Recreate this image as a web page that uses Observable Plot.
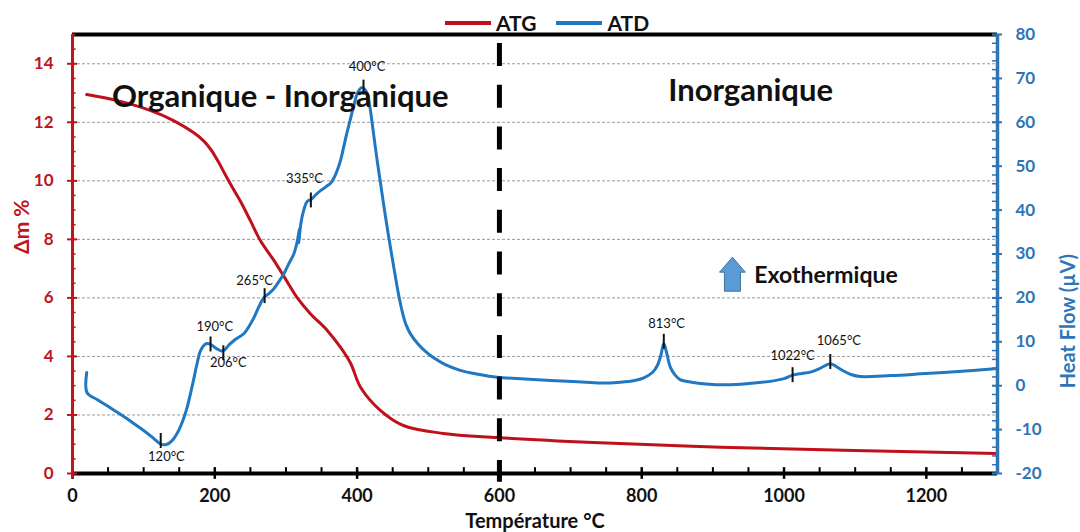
<!DOCTYPE html>
<html><head><meta charset="utf-8">
<script src="https://cdn.jsdelivr.net/npm/d3@7"></script>
<script src="https://cdn.jsdelivr.net/npm/@observablehq/plot@0.6"></script>
<style>
body{margin:0;background:#fff;font-family:Lato,"Open Sans",sans-serif;}
#wrap{position:relative;width:1080px;height:532px;overflow:hidden;}
#wrap svg{position:absolute;left:0;top:0;}
#legend{position:absolute;left:445px;top:10px;display:flex;align-items:center;font:bold 21px Lato,sans-serif;color:#111;z-index:2;}
.sw{display:inline-block;height:4px;width:46px;margin-right:5px;}
</style></head><body>
<div id="wrap"><div id="legend"></div></div>
<script>
// ---- data ----
const seriesNames = ["ATG", "ATD"];
const seriesColors = ["#C0101C", "#1F78C1"];
const atgT  = [20, 63, 110, 142, 170, 185, 195, 205, 215, 226, 236, 250, 264, 283, 298, 316, 334, 358, 377, 391, 405, 433, 465, 521, 597, 732, 911, 1098, 1300];
const atgDm = [12.95, 12.74, 12.4, 12.06, 11.65, 11.35, 11.05, 10.65, 10.2, 9.72, 9.3, 8.64, 7.96, 7.28, 6.7, 6.0, 5.47, 4.89, 4.3, 3.76, 2.94, 2.15, 1.64, 1.37, 1.23, 1.06, 0.9, 0.79, 0.68];
const atdT  = [20, 20.5, 35, 53, 70, 86, 100, 114, 124, 132, 140, 147, 155, 161, 170, 175, 180, 186, 190, 196, 203, 210, 214, 220, 227, 241, 248, 255, 262, 269, 276, 283, 290, 297, 304, 311, 316, 319, 318, 321, 325, 330, 335, 342, 349, 356, 363, 368, 372, 377, 381, 386, 391, 396, 400, 404, 407, 410, 414, 418, 423, 428, 433, 438, 443, 451, 458, 464, 469, 475, 485, 496, 507, 524, 545, 570, 597, 630, 672, 710, 742, 770, 790, 803, 815, 822, 827, 831, 835, 840, 847, 854, 870, 890, 920, 950, 985, 1000, 1012, 1025, 1037, 1050, 1065, 1075, 1083, 1095, 1107, 1150, 1192, 1250, 1300];
const atdHF = [3.0, -1.6, -3.2, -5.0, -6.8, -8.6, -10.2, -12.0, -13.3, -13.4, -12.5, -10.9, -8.0, -5.0, 1.2, 5.0, 8.0, 9.4, 9.6, 9.2, 8.4, 7.9, 8.2, 9.3, 10.3, 11.9, 13.5, 15.5, 18.0, 20.1, 21.0, 22.1, 23.7, 25.5, 27.8, 30.0, 33.0, 35.8, 32.5, 37.0, 40.0, 42.0, 42.4, 43.5, 44.5, 45.3, 46.2, 47.5, 49.0, 51.5, 54.3, 57.8, 61.0, 64.2, 66.5, 67.6, 67.9, 67.6, 66.6, 63.5, 57.5, 51.5, 46.0, 40.5, 35.3, 27.5, 21.0, 16.5, 13.8, 11.8, 9.6, 7.8, 6.4, 4.8, 3.5, 2.6, 1.9, 1.6, 1.2, 0.9, 0.6, 0.8, 1.2, 1.8, 3.0, 4.6, 7.0, 9.6, 7.5, 4.3, 2.4, 1.4, 0.8, 0.4, 0.2, 0.5, 1.1, 1.6, 2.4, 2.8, 3.1, 3.9, 5.0, 4.2, 3.4, 2.5, 2.1, 2.3, 2.7, 3.3, 3.9];
const peakLabels = ["120°C", "190°C", "206°C", "265°C", "335°C", "400°C", "813°C", "1022°C", "1065°C"];
const peakT      = [124, 194, 212, 270, 335, 409, 831, 1012, 1065];
const peakHF     = [-12.6, 9.4, 7.4, 20.4, 42.2, 67.9, 10.0, 2.4, 5.4];
const labelT     = [132, 200, 219, 256, 326, 414, 835, 1012, 1077];
const labelHF    = [-16.1, 13.3, 5.1, 24.0, 47.2, 72.7, 14.2, 6.9, 10.3];
const regionNames = ["Organique - Inorganique", "Inorganique"];
const regionT     = [292, 953];
const regionDm    = [12.85, 13.05];
const exoText = "Exothermique";
const exoT = 1059, exoDm = 6.76, arrowT = 927.5, arrowDm = 6.81;
const xTicks  = [0, 200, 400, 600, 800, 1000, 1200];
const dmTicks = [0, 2, 4, 6, 8, 10, 12, 14];
const hfTicks = [-20, -10, 0, 10, 20, 30, 40, 50, 60, 70, 80];
const boundaryT = 600;
const xTitle = "Température °C", yTitle = "Δm %", y2Title = "Heat Flow (µV)";

// ---- helpers ----
const toDm = hf => (hf + 20) * 0.15;   // Heat Flow axis (-20..80) shares the frame with Δm (0..15)
const RED = "#C0101C", REDAX = "#C0141E", BLUE = "#1F78C1", BLUEAX = "#2E75B6";
const atg = atgT.map((T, i) => ({T, y: atgDm[i]}));
const atd = atdT.map((T, i) => ({T, y: toDm(atdHF[i])}));
const peaks = peakT.map((T, i) => ({T, hf: peakHF[i]}));
const plabels = peakLabels.map((t, i) => ({t, T: labelT[i], y: toDm(labelHF[i])}));
const regions = regionNames.map((t, i) => ({t, T: regionT[i], y: regionDm[i]}));

const blockArrow = {
  draw(ctx, size) {
    const r = Math.sqrt(size / Math.PI);
    ctx.moveTo(0, -r);
    ctx.lineTo(0.76 * r, -0.12 * r);
    ctx.lineTo(0.47 * r, -0.12 * r);
    ctx.lineTo(0.47 * r, r);
    ctx.lineTo(-0.47 * r, r);
    ctx.lineTo(-0.47 * r, -0.12 * r);
    ctx.lineTo(-0.76 * r, -0.12 * r);
    ctx.closePath();
  }
};

const chart = Plot.plot({
  width: 1080, height: 532,
  marginLeft: 72, marginRight: 83, marginTop: 34, marginBottom: 59,
  style: {fontFamily: "Lato, 'Open Sans', sans-serif", background: "transparent"},
  x: {domain: [0, 1300], axis: null},
  y: {domain: [0, 15], axis: null},
  marks: [
    // gridlines
    Plot.ruleY(dmTicks.filter(d => d > 0), {stroke: "#9a9a9a", strokeWidth: 1, strokeDasharray: "3,2"}),
    // curves
    Plot.line(atg, {x: "T", y: "y", stroke: RED, strokeWidth: 3, curve: "catmull-rom"}),
    Plot.line(atd, {x: "T", y: "y", stroke: BLUE, strokeWidth: 3, curve: "catmull-rom"}),
    // boundary
    Plot.ruleX([boundaryT], {y1: 15, y2: -0.3, stroke: "#000", strokeWidth: 5, strokeDasharray: "23,18.7", strokeDashoffset: 32.7}),
    // peak ticks + labels
    Plot.ruleX(peaks, {x: "T", y1: d => toDm(d.hf - 1.7), y2: d => toDm(d.hf + 1.7), stroke: "#111", strokeWidth: 2}),
    Plot.text(plabels, {x: "T", y: "y", text: "t", fontSize: 13, fill: "#111", fontWeight: "normal"}),
    // region labels
    Plot.text(regions, {x: "T", y: "y", text: "t", fontSize: 31, fontWeight: "bold", fill: "#111"}),
    Plot.dot([{T: arrowT, y: arrowDm}], {x: "T", y: "y", r: 17, symbol: blockArrow, fill: "#5B9BD5", stroke: "#41719C", strokeWidth: 1}),
    Plot.text([exoText], {x: exoT, y: exoDm, text: d => d, fontSize: 23, fontWeight: "bold", fill: "#111"}),
    // frame lines
    Plot.ruleY([15], {x1: 0, x2: 1300, stroke: "#000", strokeWidth: 4}),
    Plot.ruleY([0], {x1: 0, x2: 1300, stroke: "#000", strokeWidth: 4}),
    // x ticks
    Plot.ruleX(d3.range(0, 1301, 50).filter(v => v % 200 !== 0), {y1: 0, y2: 0.2, stroke: "#000", strokeWidth: 2}),
    Plot.ruleX(xTicks, {y1: -0.2, y2: 0.2, stroke: "#000", strokeWidth: 2.5}),
    // left axis
    Plot.ruleX([0], {y1: -0.17, y2: 15, stroke: REDAX, strokeWidth: 3}),
    Plot.ruleY(d3.range(0, 15.01, 0.5), {x1: 0, x2: 5, stroke: REDAX, strokeWidth: 1.5}),
    Plot.ruleY(dmTicks, {x1: -7, x2: 7, stroke: REDAX, strokeWidth: 2}),
    // right axis
    Plot.ruleX([1300], {y1: 0, y2: 15, stroke: BLUEAX, strokeWidth: 3.5}),
    Plot.ruleY(d3.range(-20, 80.01, 2).map(toDm), {x1: 1293, x2: 1300, stroke: BLUEAX, strokeWidth: 1.5}),
    Plot.ruleY(hfTicks.map(toDm), {x1: 1293, x2: 1307, stroke: BLUEAX, strokeWidth: 2}),
    // axes text
    Plot.axisX(xTicks, {tickSize: 0, tickPadding: 16, fontSize: 18, fontWeight: "bold", fill: "#111",
      tickFormat: d => String(d), label: null}),
    Plot.axisY(dmTicks, {anchor: "left", tickSize: 0, tickPadding: 19, fontSize: 17, fontWeight: "bold", color: REDAX,
      label: null}),
    Plot.axisY(hfTicks.map(toDm), {anchor: "right", tickSize: 0, tickPadding: 18, fontSize: 17, fontWeight: "bold", color: BLUEAX,
      tickFormat: d => String(Math.round(d / 0.15 - 20)), label: null}),
    // axis titles
    Plot.text([xTitle], {frameAnchor: "bottom", dy: 48, lineAnchor: "middle", text: d => d, fontSize: 20, fontWeight: "bold", fill: "#111"}),
    Plot.text([yTitle], {frameAnchor: "left", dx: -50, rotate: -90, text: d => d, fontSize: 21, fontWeight: "bold", fill: REDAX}),
    Plot.text([y2Title], {frameAnchor: "right", dx: 71, rotate: -90, text: d => d, fontSize: 20, fontWeight: "bold", fill: BLUEAX})
  ]
});
document.getElementById("wrap").appendChild(chart);

// legend
const lg = document.getElementById("legend");
seriesNames.forEach((n, i) => {
  const item = document.createElement("span");
  item.style.cssText = "display:flex;align-items:center;margin-right:" + (i === 0 ? "20px" : "0");
  const sw = document.createElement("span");
  sw.className = "sw"; sw.style.background = seriesColors[i];
  const tx = document.createElement("span");
  tx.textContent = n;
  item.appendChild(sw); item.appendChild(tx);
  lg.appendChild(item);
});
</script>
</body></html>
